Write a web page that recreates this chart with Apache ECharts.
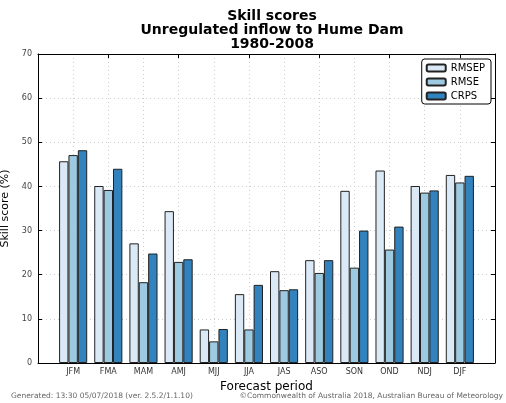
<!DOCTYPE html>
<html>
<head>
<meta charset="utf-8">
<script src="https://cdn.jsdelivr.net/npm/echarts@6/dist/echarts.min.js"></script>
<style>
  html, body { margin: 0; padding: 0; background: #fff; }
  #chart { width: 506px; height: 403px; }
</style>
</head>
<body>
<div id="chart"></div>
<script>
// blank entries pad the axis like matplotlib's xlim(-1, 12)
const periods = ["", "JFM", "FMA", "MAM", "AMJ", "MJJ", "JJA", "JAS", "ASO", "SON", "OND", "NDJ", "DJF", ""];
const rmsep = [null, 45.7, 40.1, 27.1, 34.4, 7.6, 15.6, 20.8, 23.3, 39.0, 43.6, 40.1, 42.6, null];
const rmse = [null, 47.1, 39.2, 18.3, 22.9, 4.9, 7.6, 16.5, 20.4, 21.6, 25.7, 38.6, 40.9, null];
const crps = [null, 48.2, 44.0, 24.8, 23.5, 7.7, 17.7, 16.7, 23.3, 30.0, 30.9, 39.1, 42.4, null];

const chart = echarts.init(document.getElementById("chart"));

const barStyle = (color) => ({
  color: color,
  borderColor: "#222",
  borderWidth: 1,
});

const frameAxisLine = { show: true, onZero: false, lineStyle: { color: "#000", width: 1 } };
const insideTick = { show: true, inside: true, length: 4, lineStyle: { color: "#000" } };

const option = {
  animation: false,
  textStyle: { fontFamily: "DejaVu Sans" },
  title: {
    text: "Skill scores\nUnregulated inflow to Hume Dam\n1980-2008",
    left: 267,
    textAlign: "center",
    top: 4,
    textStyle: {
      fontSize: 14,
      fontWeight: "bold",
      lineHeight: 14,
      color: "#000",
      fontFamily: "DejaVu Sans",
    },
  },
  legend: {
    orient: "vertical",
    right: 15,
    top: 59,
    padding: [4, 6, 3, 4],
    itemWidth: 19,
    itemHeight: 7,
    itemGap: 4,
    borderColor: "#000",
    borderWidth: 1,
    borderRadius: 3,
    backgroundColor: "#fff",
    textStyle: { fontSize: 10, color: "#000" },
    data: ["RMSEP", "RMSE", "CRPS"],
  },
  grid: {
    left: 38,
    right: 11,
    top: 54,
    bottom: 40,
    outerBoundsMode: "none",
  },
  xAxis: [
    {
      type: "category",
      data: periods,
      boundaryGap: false,
      name: "Forecast period",
      nameLocation: "middle",
      nameGap: 17,
      nameTextStyle: { fontSize: 12, color: "#000" },
      axisLine: frameAxisLine,
      axisTick: insideTick,
      axisLabel: { fontSize: 8, color: "#333", margin: 5, interval: 0 },
      splitLine: {
        show: true,
        showMinLine: false,
        showMaxLine: false,
        lineStyle: { color: "#ccc", type: [1, 3] },
      },
    },
    {
      type: "category",
      data: periods,
      boundaryGap: false,
      position: "top",
      axisLine: frameAxisLine,
      axisTick: insideTick,
      axisLabel: { show: false },
    },
  ],
  yAxis: [
    {
      type: "value",
      min: 0,
      max: 70,
      interval: 10,
      position: "left",
      name: "Skill score (%)",
      nameLocation: "middle",
      nameGap: 20,
      nameTextStyle: { fontSize: 11, color: "#000" },
      axisLine: frameAxisLine,
      axisTick: insideTick,
      axisLabel: { fontSize: 8, color: "#444", margin: 6 },
      splitLine: {
        show: true,
        showMinLine: false,
        showMaxLine: false,
        lineStyle: { color: "#ccc", type: [1, 3] },
      },
    },
    {
      type: "value",
      min: 0,
      max: 70,
      interval: 10,
      position: "right",
      axisLine: frameAxisLine,
      axisTick: insideTick,
      axisLabel: { show: false },
      splitLine: { show: false },
    },
  ],
  series: [
    {
      name: "RMSEP",
      type: "bar",
      data: rmsep,
      barCategoryGap: "20%",
      barGap: "0%",
      itemStyle: barStyle("#dbe9f6"),
    },
    {
      name: "RMSE",
      type: "bar",
      data: rmse,
      barGap: "0%",
      itemStyle: barStyle("#9ecae1"),
    },
    {
      name: "CRPS",
      type: "bar",
      data: crps,
      barGap: "0%",
      itemStyle: barStyle("#3182bd"),
    },
  ],
  graphic: [
    {
      type: "text",
      left: 11,
      top: 392,
      style: {
        text: "Generated: 13:30 05/07/2018 (ver. 2.5.2/1.1.10)",
        fontSize: 7.5,
        fill: "#666",
        fontFamily: "DejaVu Sans",
      },
    },
    {
      type: "text",
      right: 3,
      top: 392,
      style: {
        text: "\u00A9Commonwealth of Australia 2018, Australian Bureau of Meteorology",
        fontSize: 7.5,
        fill: "#666",
        fontFamily: "DejaVu Sans",
      },
    },
  ],
};

chart.setOption(option);
</script>
</body>
</html>
